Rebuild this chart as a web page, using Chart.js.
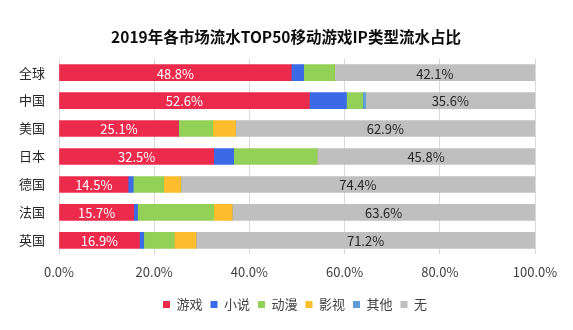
<!DOCTYPE html>
<html>
<head>
<meta charset="utf-8">
<script src="https://cdn.jsdelivr.net/npm/chart.js@4"></script>
<style>
  html, body { margin: 0; padding: 0; background: #fff; }
  #wrap { width: 573px; height: 330px; }
</style>
</head>
<body>
<div id="wrap"><canvas id="ipChart"></canvas></div>
<script>
const markets = ['全球', '中国', '美国', '日本', '德国', '法国', '英国'];
const gameIP  = [48.8, 52.6, 25.1, 32.5, 14.5, 15.7, 16.9];
const novelIP = [2.6, 7.8, 0, 4.2, 1.1, 0.8, 0.9];
const animeIP = [6.5, 3.4, 7.2, 17.5, 6.4, 16.0, 6.4];
const filmIP  = [0, 0, 4.8, 0, 3.6, 3.9, 4.6];
const otherIP = [0, 0.6, 0, 0, 0, 0, 0];
const noIP    = [42.1, 35.6, 62.9, 45.8, 74.4, 63.6, 71.2];
const xTicks  = [0, 20, 40, 60, 80, 100];

const FONT = '"Noto Sans CJK SC", "Noto Sans", sans-serif';

// draw value text on the 游戏 and 无 segments
const segLabels = {
    id: 'segLabels',
    afterDatasetsDraw(chart) {
        const ctx = chart.ctx;
        ctx.save();
        ctx.font = '13px ' + FONT;
        ctx.textAlign = 'center';
        ctx.textBaseline = 'middle';
        [0, 5].forEach(di => {
            const meta = chart.getDatasetMeta(di);
            meta.data.forEach((bar, i) => {
                const v = chart.data.datasets[di].data[i];
                ctx.fillStyle = di === 0 ? '#ffffff' : '#262626';
                ctx.fillText(v.toFixed(1) + '%', (bar.x + bar.base) / 2, bar.y + 1);
            });
        });
        ctx.restore();
    }
};

// title centred on the canvas, legend a little right of centre as in the original
const blockNudge = {
    id: 'blockNudge',
    afterLayout(chart) {
        chart.titleBlock.left += 13;
        chart.titleBlock.right += 13;
        chart.legend.left += 22;
        chart.legend.right += 22;
    }
};

new Chart(document.getElementById('ipChart'), {
    type: 'bar',
    data: {
        labels: markets,
        datasets: [
            { label: '游戏', data: gameIP,  backgroundColor: '#EC2A4C' },
            { label: '小说', data: novelIP, backgroundColor: '#3A6AE6' },
            { label: '动漫', data: animeIP, backgroundColor: '#92D057' },
            { label: '影视', data: filmIP,  backgroundColor: '#FDBD2C' },
            { label: '其他', data: otherIP, backgroundColor: '#5E9CD8' },
            { label: '无',   data: noIP,    backgroundColor: '#BFBFBF' }
        ]
    },
    options: {
        indexAxis: 'y',
        responsive: true,
        maintainAspectRatio: false,
        animation: false,
        datasets: { bar: { barThickness: 16, borderWidth: 0 } },
        layout: { padding: { left: 11, right: 38, top: 14, bottom: 9 } },
        scales: {
            x: {
                stacked: true,
                min: 0,
                max: 100,
                afterBuildTicks: axis => { axis.ticks = xTicks.map(v => ({ value: v })); },
                grid: { color: '#D9D9D9', drawTicks: false },
                border: { display: false },
                ticks: {
                    padding: 10,
                    color: '#404040',
                    font: { family: FONT, size: 13 },
                    callback: v => v.toFixed(1) + '%'
                }
            },
            y: {
                stacked: true,
                grid: { display: false },
                border: { display: false },
                afterFit: axis => { axis.width = 48; },
                ticks: {
                    padding: 6,
                    color: '#262626',
                    font: { family: FONT, size: 13 }
                }
            }
        },
        plugins: {
            title: {
                display: true,
                text: '2019年各市场流水TOP50移动游戏IP类型流水占比',
                color: '#0d0d0d',
                font: { family: FONT, size: 15.5, weight: 'bold' },
                padding: { top: 14, bottom: 12 }
            },
            legend: {
                position: 'bottom',
                labels: {
                    boxWidth: 7,
                    boxHeight: 7,
                    padding: 8,
                    color: '#404040',
                    font: { family: FONT, size: 13 }
                }
            },
            tooltip: { enabled: false }
        }
    },
    plugins: [segLabels, blockNudge]
});
</script>
</body>
</html>
